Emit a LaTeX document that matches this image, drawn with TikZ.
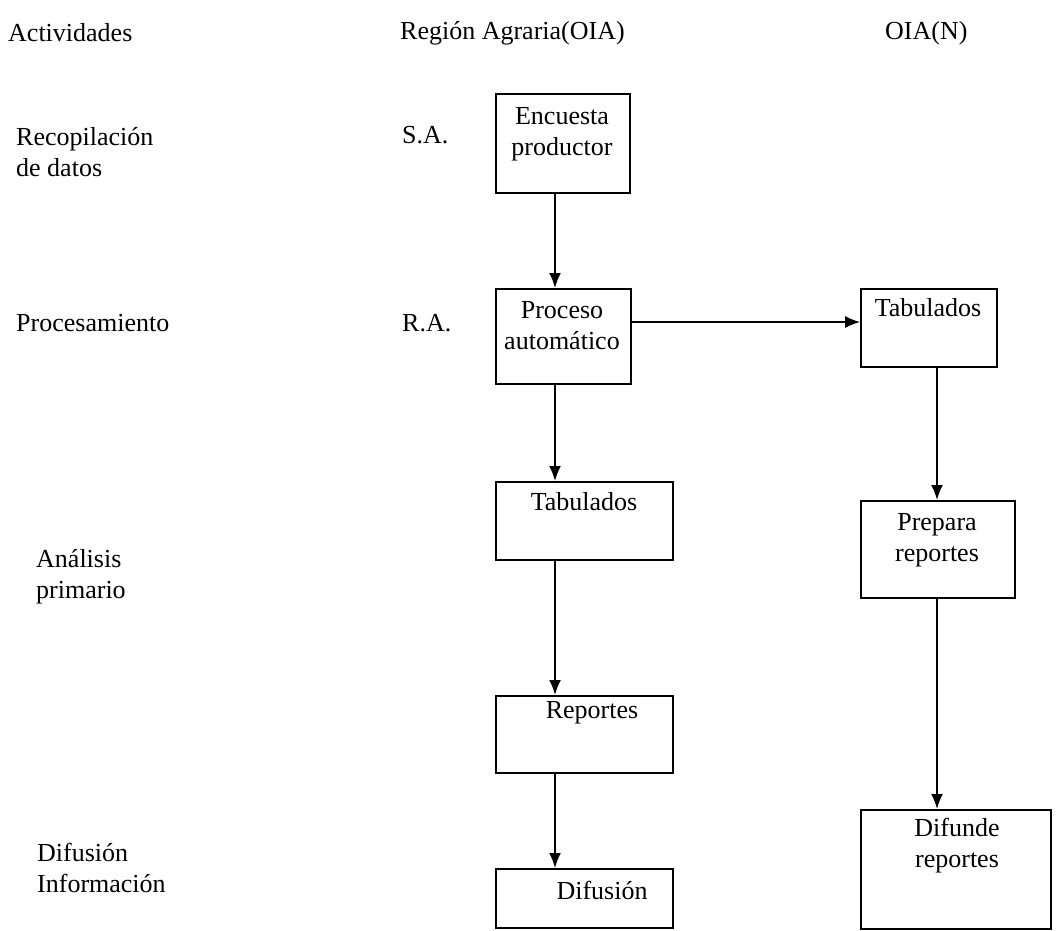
\documentclass[tikz,border=0pt]{standalone}
\usepackage{fontspec}
\setmainfont{Liberation Serif}
\usetikzlibrary{arrows.meta}
\begin{document}
\begin{tikzpicture}[x=1pt,y=-1pt,
  box/.style={draw, line width=1.8pt, rectangle, inner sep=0pt, anchor=north west},
  txt/.style={font=\fontsize{26}{31}\selectfont, inner sep=0pt, align=center},
  lbl/.style={font=\fontsize{26}{31}\selectfont, inner sep=0pt, align=left, anchor=west},
  arr/.style={line width=1.8pt, -{Latex[length=15pt,width=12pt]}},
  harr/.style={line width=1.2pt, -{Latex[length=15pt,width=12pt]}}]
\useasboundingbox (0,0) rectangle (1057,930);
% headers
\node[lbl] (h1) at (8,33) {Actividades};
\node[lbl] (h2) at (400,33) {Región Agraria(OIA)};
\node[lbl] (h3) at (885,33) {OIA(N)};
% left labels
\node[lbl] (l1) at (16,152) {Recopilación\\de datos};
\node[lbl] (l2) at (16,323) {Procesamiento};
\node[lbl] (l3) at (36,577) {Análisis\\primario};
\node[lbl] (l4) at (37,868) {Difusión\\Información};
\node[lbl] (sa) at (402,135) {S.A.};
\node[lbl] (ra) at (402,323) {R.A.};
% boxes
\node[box, minimum width=134pt, minimum height=99pt] (enc) at (495,93) {};
\node[box, minimum width=135pt, minimum height=95pt] (proc) at (495,288) {};
\node[box, minimum width=177pt, minimum height=78pt] (tabl) at (495,481) {};
\node[box, minimum width=177pt, minimum height=77pt] (rep) at (495,695) {};
\node[box, minimum width=177pt, minimum height=59pt] (dif) at (495,868) {};
\node[box, minimum width=136pt, minimum height=78pt] (tabr) at (860,288) {};
\node[box, minimum width=154pt, minimum height=97pt] (prep) at (860,500) {};
\node[box, minimum width=190pt, minimum height=119pt] (difr) at (860,809) {};
% box texts
\node[txt] (enct) at (562,134) {Encuesta\\productor};
\node[txt] (proct) at (562,326) {Proceso\\automático};
\node[txt] (tablt) at (584,502) {Tabulados};
\node[txt] (rept) at (592,713) {Reportes};
\node[txt] (dift) at (602,890) {Difusión};
\node[txt] (tabrt) at (928,308) {Tabulados};
\node[txt] (prept) at (937,540) {Prepara\\reportes};
\node[txt] (difrt) at (957,846) {Difunde\\reportes};
% connectors
\coordinate (ax) at (555,0);
\coordinate (bx) at (937,0);
\coordinate (hy) at (0,322);
\draw[arr] (enc.south -| ax) -- (proc.north -| ax);
\draw[arr] (proc.south -| ax) -- (tabl.north -| ax);
\draw[arr] (tabl.south -| ax) -- (rep.north -| ax);
\draw[arr] (rep.south -| ax) -- (dif.north -| ax);
\draw[arr] (tabr.south -| bx) -- (prep.north -| bx);
\draw[arr] (prep.south -| bx) -- (difr.north -| bx);
\draw[harr] (proc.east |- hy) -- (tabr.west |- hy);
\end{tikzpicture}
\end{document}
